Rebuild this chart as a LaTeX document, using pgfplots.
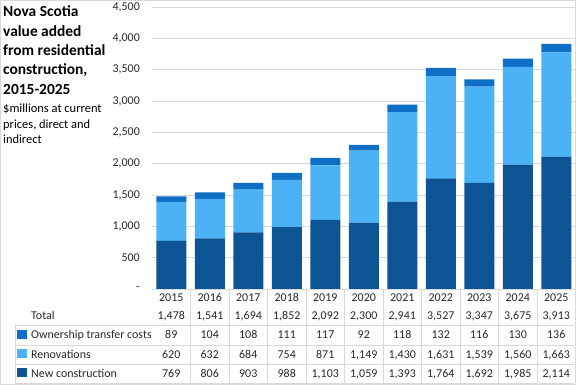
\documentclass[border=0pt]{standalone}
\usepackage{pgfplots}
\pgfplotsset{compat=1.18}
\usepackage{pgfplotstable}
\usepackage{fontspec}
\setmainfont{Carlito}
\definecolor{newc}{RGB}{12,84,148}
\definecolor{reno}{RGB}{74,178,245}
\definecolor{own}{RGB}{15,111,198}
\definecolor{gridc}{RGB}{217,217,217}
\definecolor{txt}{RGB}{40,40,40}

\pgfplotstableread{
x new reno own
0 769 620 89
1 806 632 104
2 903 684 108
3 988 754 111
4 1103 871 117
5 1059 1149 92
6 1393 1430 118
7 1764 1631 132
8 1692 1539 116
9 1985 1560 130
10 2114 1663 136
}\data

\begin{document}
\begin{tikzpicture}
\path[use as bounding box] (0bp,0bp) rectangle (576bp,385bp);
\begin{axis}[
  at={(152bp,96bp)}, anchor=south west,
  scale only axis, width=423.5bp, height=282bp,
  xmin=-0.5, xmax=10.5, ymin=0, ymax=4500,
  ybar stacked, bar width=30bp,
  axis line style={draw=none},
  ymajorgrids, grid style={gridc, line width=0.75bp},
  xtick=\empty,
  ytick={0,500,1000,1500,2000,2500,3000,3500,4000,4500},
  yticklabels={{-\hspace{4bp}},500,{1,000},{1,500},{2,000},{2,500},{3,000},{3,500},{4,000},{4,500}},
  major tick length=0pt,
  yticklabel style={font=\fontsize{12}{14}\selectfont, text=txt, inner sep=0pt, xshift=-12bp},
  clip=false,
]
\addplot[fill=newc, draw=none] table[x=x, y=new]{\data};
\addplot[fill=reno, draw=none] table[x=x, y=reno]{\data};
\addplot[fill=own, draw=none] table[x=x, y=own]{\data};
\end{axis}
\draw[gridc, line width=0.75bp] (0.4bp,0.4bp) rectangle (575.6bp,384.6bp);

% title
\begin{scope}[every node/.style={anchor=base west, inner sep=0pt, text=black}]
\node[font=\fontsize{15.5}{19}\bfseries] at (3bp,368bp) {Nova Scotia};
\node[font=\fontsize{15.5}{19}\bfseries] at (3bp,348.7bp) {value added};
\node[font=\fontsize{15.5}{19}\bfseries] at (3bp,329.4bp) {from residential};
\node[font=\fontsize{15.5}{19}\bfseries] at (3bp,310.1bp) {construction,};
\node[font=\fontsize{15.5}{19}\bfseries] at (3bp,290.8bp) {2015-2025};
\node[font=\fontsize{12.5}{15}\selectfont] at (3bp,272.5bp) {\$millions at current};
\node[font=\fontsize{12.5}{15}\selectfont] at (3bp,256.8bp) {prices, direct and};
\node[font=\fontsize{12.5}{15}\selectfont] at (3bp,241.1bp) {indirect};
\end{scope}

% data table lines
\foreach \k in {1,...,10}{
  \pgfmathsetmacro\lx{152+38.5*\k}
  \draw[gridc, line width=0.75bp] (\lx bp,96bp) -- (\lx bp,2bp);
}
\foreach \yy in {60,40,21,2}{
  \draw[gridc, line width=0.75bp] (15bp,\yy bp) -- (574bp,\yy bp);
}
\draw[gridc, line width=0.75bp] (15bp,60bp) -- (15bp,2bp);

% row labels
\begin{scope}[every node/.style={anchor=base west, inner sep=0pt, text=txt, font=\fontsize{12}{14}\selectfont}]
\node at (31bp,65bp) {Total};
\node at (31bp,46bp) {Ownership transfer costs};
\node at (31bp,27bp) {Renovations};
\node at (31bp,8bp) {New construction};
\end{scope}
\fill[own] (17bp,45.5bp) rectangle (26.5bp,55bp);
\fill[reno] (17bp,26.5bp) rectangle (26.5bp,36bp);
\fill[newc] (17bp,7.5bp) rectangle (26.5bp,17bp);

% table values
\foreach \i/\yr/\tot/\o/\r/\n in {
0/2015/{1,478}/89/620/769,
1/2016/{1,541}/104/632/806,
2/2017/{1,694}/108/684/903,
3/2018/{1,852}/111/754/988,
4/2019/{2,092}/117/871/{1,103},
5/2020/{2,300}/92/{1,149}/{1,059},
6/2021/{2,941}/118/{1,430}/{1,393},
7/2022/{3,527}/132/{1,631}/{1,764},
8/2023/{3,347}/116/{1,539}/{1,692},
9/2024/{3,675}/130/{1,560}/{1,985},
10/2025/{3,913}/136/{1,663}/{2,114}}{
  \pgfmathsetmacro\cx{152+38.5*(\i+0.5)}
  \begin{scope}[every node/.style={anchor=base, inner sep=0pt, text=txt, font=\fontsize{12}{14}\selectfont}]
  \node at (\cx bp,83bp) {\yr};
  \node at (\cx bp,65bp) {\tot};
  \node at (\cx bp,46bp) {\o};
  \node at (\cx bp,27bp) {\r};
  \node at (\cx bp,8bp) {\n};
  \end{scope}
}
\end{tikzpicture}
\end{document}
